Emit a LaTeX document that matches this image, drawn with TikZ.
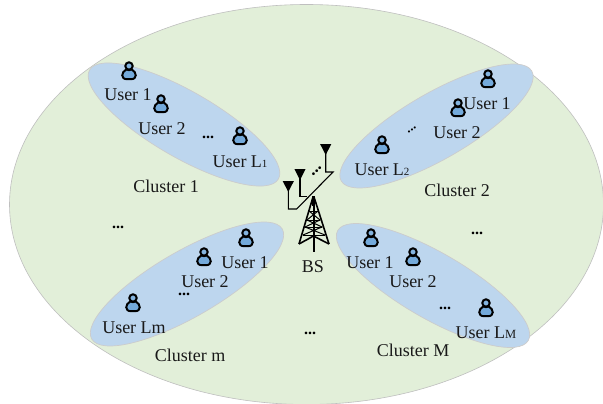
\documentclass[tikz,border=0pt]{standalone}
\usepackage{fontspec}
\setmainfont{Liberation Serif}
\definecolor{fieldc}{HTML}{E2EFD9}
\definecolor{clusterc}{HTML}{BDD6EE}
\definecolor{personc}{HTML}{5B9BD5}
\tikzset{
  field/.style={draw=black!25,line width=0.6pt,fill=fieldc},
  cluster/.style={draw=black!20,line width=0.7pt,fill=clusterc},
  lab/.style={inner sep=0pt,font=\fontsize{18}{18}\selectfont,text=black!90},
  dotslab/.style={inner sep=0pt,font=\bfseries\fontsize{16}{16}\selectfont,text=black},
  tinydots/.style={inner sep=0pt,font=\bfseries\fontsize{13}{13}\selectfont,text=black},
  person/.pic={
    \draw[line width=2pt,black,fill=personc!75!white] (0,-5) circle (3.7);
    \draw[line width=2pt,black,fill=personc!85!white] (-2.6,-1.6) .. controls (-8,1) and (-8.5,8.2) .. (-2,8.2) -- (2,8.2) .. controls (8.5,8.2) and (8,1) .. (2.6,-1.6) .. controls (1,-0.6) and (-1,-0.6) .. (-2.6,-1.6) -- cycle;
  },
  antenna/.pic={
    \fill[black] (-5.6,0) -- (5.6,0) -- (0,11) -- cycle;
  },
  feed/.style={line width=1.1pt,black},
}
\newcommand{\subs}[1]{{\fontsize{11}{11}\selectfont #1}}
\begin{document}
\begin{tikzpicture}[x=1pt,y=-1pt]
\useasboundingbox (0,0) rectangle (603,404);
\path[field] (306.5,204.5) ellipse [x radius=297,y radius=200];
\path[cluster,rotate around={-30:(184,124.5)}] (184,124.5) ellipse [x radius=109,y radius=33];
\path[cluster,rotate around={30:(436.5,126)}] (436.5,126) ellipse [x radius=110,y radius=33];
\path[cluster,rotate around={30:(187,284)}] (187,284) ellipse [x radius=110,y radius=33];
\path[cluster,rotate around={-30:(433,285.5)}] (433,285.5) ellipse [x radius=110,y radius=33];
% users
\foreach \px/\py in {129/71,161/104,240/136,488/79,458/108,382/145,246/238,204/257,133/303,371/238,413/257,486/308}
  \pic at (\px,\py) {person};
% cluster 1
\node[lab] (a1) at (128,95) {User 1};
\node[lab] (a2) at (162,129) {User 2};
\node[lab] (a3) at (240,162) {User L\subs{1}};
\node[lab] (c1) at (166,186) {Cluster 1};
\node[dotslab] (d1) at (208,137) {...};
% cluster 2
\node[lab] (b1) at (487,104) {User 1};
\node[lab] (b2) at (457,133) {User 2};
\node[lab] (b3) at (382,170) {User L\subs{2}};
\node[lab] (c2) at (457,190) {Cluster 2};
\node[tinydots,rotate=30] (d2) at (412,130) {...};
% cluster m
\node[lab] (e1) at (245,263) {User 1};
\node[lab] (e2) at (205,282) {User 2};
\node[lab] (e3) at (134,328) {User Lm};
\node[lab] (cm) at (190,355) {Cluster m};
\node[dotslab] (dm) at (184,294) {...};
% cluster M
\node[lab] (f1) at (370,263) {User 1};
\node[lab] (f2) at (413,282) {User 2};
\node[lab] (f3) at (486,333) {User L{\fontsize{12.5}{12.5}\selectfont M}};
\node[lab] (cM) at (413,350) {Cluster M};
\node[dotslab] (dM) at (445,308) {...};
% outer dots
\node[dotslab] (o1) at (118,227) {...};
\node[dotslab] (o2) at (477,233) {...};
\node[dotslab] (o3) at (310,333) {...};
% antenna array
\draw[feed] (288.3,190) -- (288.3,209) -- (296.7,209) -- (333,172) -- (325.7,172) -- (325.7,150);
\draw[feed] (300,175) -- (300,196.7) -- (307,196.7);
\pic at (288.3,181) {antenna};
\pic at (300,169) {antenna};
\pic at (325.7,144) {antenna};
\node[inner sep=0pt,rotate=45,font=\bfseries\fontsize{17}{17}\selectfont] (d0) at (316.7,170.7) {...};
% tower
\draw[line width=1.6pt] (313,197) -- (299,244) (314,197) -- (329,244);
\draw[line width=2pt] (313.5,196) -- (313.5,252);
\draw[line width=3pt] (313.5,196) -- (313.5,206);
\draw[line width=1pt] (309,211) -- (318,211) (307,220) -- (320,220) (305,227) -- (322,227) (303,235) -- (325,235);
\draw[line width=1pt] (309,211) -- (320,220) -- (305,227) -- (325,235) (318,211) -- (307,220) -- (322,227) -- (303,235);
\draw[line width=1.6pt] (299,244) -- (313.5,236) -- (329,244);
\node[lab] (bs) at (313,267) {BS};
\end{tikzpicture}
\end{document}
